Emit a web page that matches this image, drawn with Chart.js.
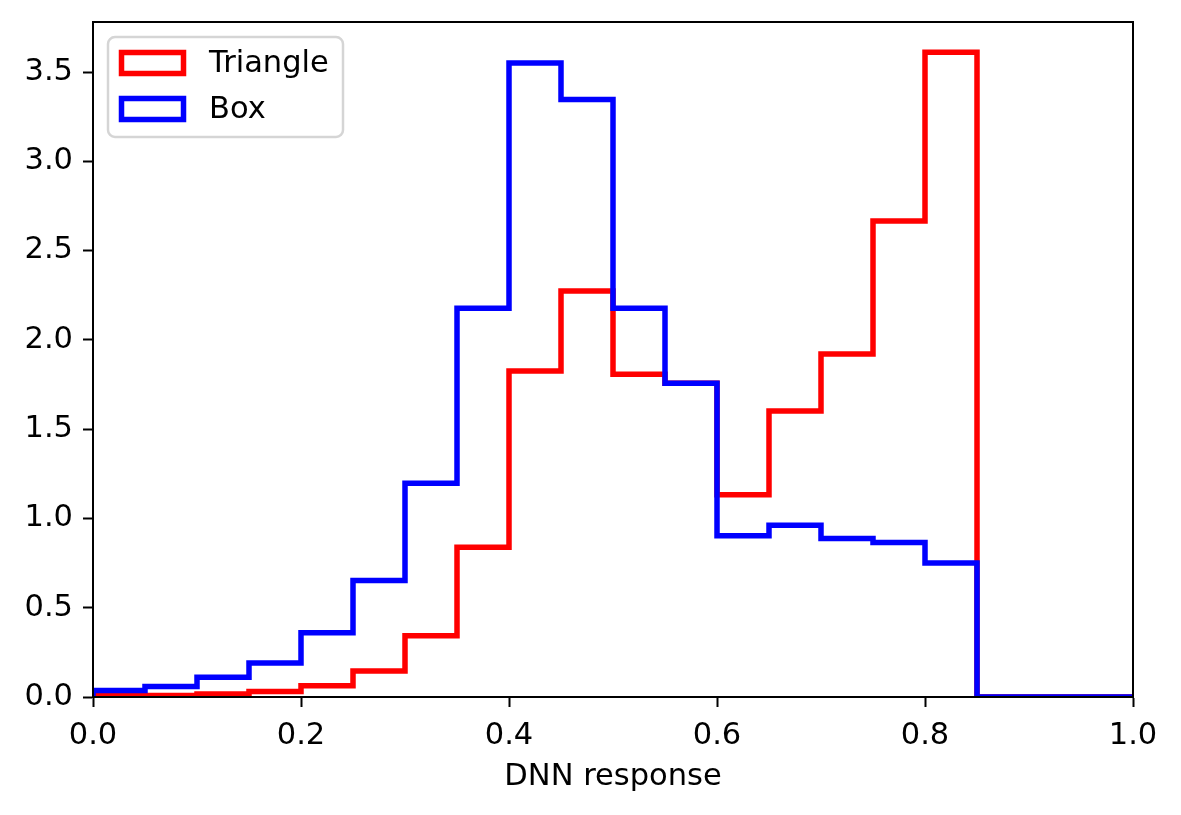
<!DOCTYPE html>
<html>
<head>
<meta charset="utf-8">
<script src="https://cdn.jsdelivr.net/npm/chart.js@4.4.0/dist/chart.umd.min.js"></script>
<style>
   html, body { margin:0; padding:0; background:#ffffff; }
   #wrap { width:1181px; height:815px; }
</style>
</head>
<body>
<div id="wrap"><canvas id="histo" width="1181" height="815"></canvas></div>
<script>

/* bin edges (width 0.05) */
let binEdges = [
   0.00, 0.05, 0.10, 0.15, 0.20, 0.25, 0.30, 0.35, 0.40, 0.45,
   0.50, 0.55, 0.60, 0.65, 0.70, 0.75, 0.80, 0.85, 0.90, 0.95, 1.00
];

/* normalised counts per bin */
let triangleValues = [
   0.009, 0.009, 0.017, 0.031, 0.063, 0.145, 0.343, 0.839, 1.826, 2.274,
   1.807, 1.757, 1.132, 1.602, 1.921, 2.665, 3.610, 0, 0, 0
];

let boxValues = [
   0.037, 0.059, 0.110, 0.190, 0.360, 0.652, 1.197, 2.177, 3.551, 3.346,
   2.177, 1.757, 0.903, 0.962, 0.888, 0.865, 0.750, 0, 0, 0
];

let seriesNames = ["Triangle", "Box"];

let xTickValues = [0.0, 0.2, 0.4, 0.6, 0.8, 1.0];
let yTickValues = [0.0, 0.5, 1.0, 1.5, 2.0, 2.5, 3.0, 3.5];

let FONT = "'DejaVu Sans', 'Liberation Sans', sans-serif";
let FONT_SIZE = 30.5;

/* outline of a step histogram: (edge, value) pairs, closed to zero at both ends */
function stepPoints(edges, values){

   let pts = [{ x: edges[0], y: 0 }];

   values.forEach(function(v, i){
      pts.push({ x: edges[i], y: v });
   });

   pts.push({ x: edges[edges.length - 1], y: 0 });

   return pts;

}

/* top and right spines + legend inside the axes */
let framePlugin = {

   id: "frameAndLegend",

   afterDatasetsDraw: function(chart){

      let ctx = chart.ctx;
      let a = chart.chartArea;

      ctx.save();

      ctx.strokeStyle = "#000000";
      ctx.lineWidth = 2;
      ctx.beginPath();
      ctx.moveTo(a.left, a.bottom);
      ctx.lineTo(a.left, a.top);
      ctx.lineTo(a.right, a.top);
      ctx.lineTo(a.right, a.bottom);
      ctx.lineTo(a.left, a.bottom);
      ctx.stroke();

      /* legend box */
      let lx = a.left + 15, ly = a.top + 15, lw = 235, lh = 100;

      ctx.beginPath();
      ctx.roundRect(lx, ly, lw, lh, 7);
      ctx.fillStyle = "rgba(255,255,255,0.8)";
      ctx.fill();
      ctx.strokeStyle = "#d5d5d5";
      ctx.lineWidth = 2.5;
      ctx.stroke();

      chart.data.datasets.forEach(function(ds, i){

         let rowY = ly + 26 + i * 46;

         ctx.strokeStyle = ds.borderColor;
         ctx.lineWidth = 5.5;
         ctx.strokeRect(lx + 13.5, rowY - 10.5, 62, 21);

         ctx.fillStyle = "#000000";
         ctx.font = FONT_SIZE + "px " + FONT;
         ctx.textAlign = "left";
         ctx.textBaseline = "middle";
         ctx.fillText(ds.label, lx + 101, rowY + 1);

      });

      ctx.restore();

   }

};

let ctx = document.getElementById("histo").getContext("2d");

new Chart(ctx, {

   type: "line",

   data: {

      datasets: [

         {
            label: seriesNames[0],
            data: stepPoints(binEdges, triangleValues),
            borderColor: "#ff0000",
            backgroundColor: "transparent",
            borderWidth: 5.5,
            stepped: "before",
            pointRadius: 0,
            fill: false,
            order: 1
         },

         {
            label: seriesNames[1],
            data: stepPoints(binEdges, boxValues),
            borderColor: "#0000ff",
            backgroundColor: "transparent",
            borderWidth: 5.5,
            stepped: "before",
            pointRadius: 0,
            fill: false,
            order: 0
         }

      ]

   },

   options: {

      responsive: false,
      animation: false,
      devicePixelRatio: 1,

      layout: {
         padding: { top: 22, right: 48, left: 0, bottom: 0 }
      },

      plugins: {
         legend: { display: false },
         tooltip: { enabled: false }
      },

      scales: {

         x: {

            type: "linear",
            min: 0,
            max: 1,

            afterBuildTicks: function(scale){
               scale.ticks = xTickValues.map(v => ({ value: v }));
            },

            afterFit: function(scale){
               scale.height = 118;
            },

            grid: {
               drawOnChartArea: false,
               drawTicks: true,
               tickLength: 10,
               tickWidth: 2,
               tickColor: "#000000"
            },

            border: { display: true, color: "#000000", width: 2 },

            ticks: {
               color: "#000000",
               padding: 11,
               maxRotation: 0,
               font: { family: FONT, size: FONT_SIZE },
               callback: function(v){ return v.toFixed(1); }
            },

            title: {
               display: true,
               text: "DNN response",
               color: "#000000",
               font: { family: FONT, size: FONT_SIZE },
               padding: { top: 0, bottom: 20 }
            }

         },

         y: {

            type: "linear",
            min: 0,
            max: 3.78,

            afterBuildTicks: function(scale){
               scale.ticks = yTickValues.map(v => ({ value: v }));
            },

            afterFit: function(scale){
               scale.width = 93;
               /* top label sits well below the axis top, no extra room needed */
               scale.paddingTop = 0;
               scale.paddingBottom = 0;
            },

            grid: {
               drawOnChartArea: false,
               drawTicks: true,
               tickLength: 10,
               tickWidth: 2,
               tickColor: "#000000"
            },

            border: { display: true, color: "#000000", width: 2 },

            ticks: {
               color: "#000000",
               padding: 10,
               font: { family: FONT, size: FONT_SIZE },
               callback: function(v){ return v.toFixed(1); }
            }

         }

      }

   },

   plugins: [framePlugin]

});

</script>
</body>
</html>
